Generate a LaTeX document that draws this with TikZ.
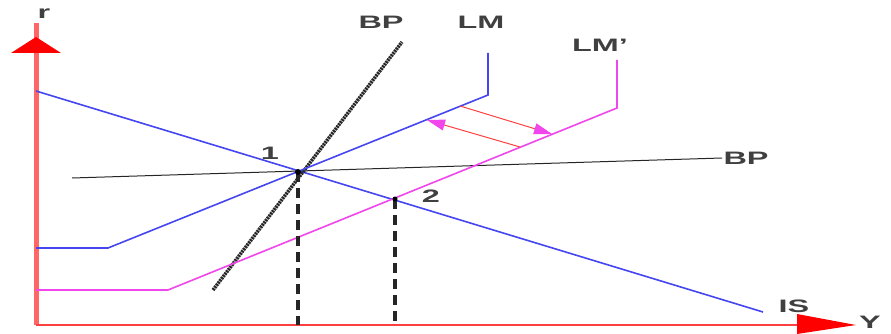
\documentclass[tikz,border=0pt]{standalone}
\usepackage{fontspec}
\setmainfont{Liberation Sans}
\usetikzlibrary{arrows.meta}
\definecolor{mag}{RGB}{240,70,235}
\definecolor{blu}{RGB}{70,70,240}
\begin{document}
\begin{tikzpicture}[x=1pt,y=-1pt,
  lbl/.style={font=\fontsize{18}{18}\selectfont\bfseries, text=black!75, inner sep=0pt, xscale=1.8},
  bluel/.style={draw=blu, line width=1.6pt},
  magl/.style={draw=mag, line width=1.6pt},
  dashv/.style={draw=black!85, line width=3.5pt, dash pattern=on 10pt off 6pt},
  shiftarr/.style={draw=red!75, line width=1pt, -{Triangle[length=18pt,width=11pt,fill=mag,color=mag]}}
]
\useasboundingbox (0,0) rectangle (891,334);
% coordinates
\coordinate (O) at (36,325);
\coordinate (Ytop) at (36,37);
\coordinate (Xend) at (856,325);
\coordinate (IS1) at (36,91);
\coordinate (IS2) at (763,312);
\coordinate (BPs1) at (213,290);
\coordinate (BPs2) at (402,42);
\coordinate (BPf1) at (72,178);
\coordinate (BPf2) at (722,158);
\coordinate (LMa) at (36,248);
\coordinate (LMb) at (108,248);
\coordinate (LMc) at (488,95);
\coordinate (LMd) at (488,53);
\coordinate (LPa) at (36,290);
\coordinate (LPb) at (168,290);
\coordinate (LPc) at (617,108);
\coordinate (LPd) at (617,60);
\coordinate (E1) at (298,172);
\coordinate (E2) at (395,199);
\coordinate (E1b) at (298,325);
\coordinate (E2b) at (395,325);
\coordinate (A1s) at (460,106);
\coordinate (A1e) at (552,134);
\coordinate (A2s) at (520,147);
\coordinate (A2e) at (427,120);
% axes
\draw[red!60, line width=5pt] (O) -- ([yshift=14pt]Ytop);
\fill[red] (Ytop) -- (11,53) -- (61,53) -- cycle;
\draw[red!75, line width=1.8pt] (O) -- ([xshift=-30pt]Xend);
\fill[red] (Xend) -- (797,314) -- (797,334) -- cycle;
\node[lbl] (r) at (44,14) {r};
\node[lbl] (Y) at (870,322) {Y};
% curves
\draw[bluel] (IS1) -- (IS2);
\draw[black!85, line width=3.5pt, dash pattern=on 2pt off 0.8pt] (BPs1) -- (BPs2);
\draw[black!85, line width=1pt] (BPf1) -- (BPf2);
\draw[bluel] (LMa) -- (LMb) -- (LMc) -- (LMd);
\draw[magl] (LPa) -- (LPb) -- (LPc) -- (LPd);
% dashed verticals
\draw[dashv] (E1) -- (E1b);
\draw[dashv] (E2) -- (E2b);
\fill[black] (E1) circle (3pt);
\fill[black] (E2) circle (2.5pt);
% shift arrows
\draw[shiftarr] (A1s) -- (A1e);
\draw[shiftarr] (A2s) -- (A2e);
% labels
\node[lbl] (lIS) at (794,306) {IS};
\node[lbl] (lBPs) at (381,22) {BP};
\node[lbl] (lBPf) at (746,158) {BP};
\node[lbl] (lLM) at (481,22) {LM};
\node[lbl] (lLMp) at (600,45) {LM’};
\node[lbl] (l1) at (270,153) {1};
\node[lbl] (l2) at (431,196) {2};
\end{tikzpicture}
\end{document}
